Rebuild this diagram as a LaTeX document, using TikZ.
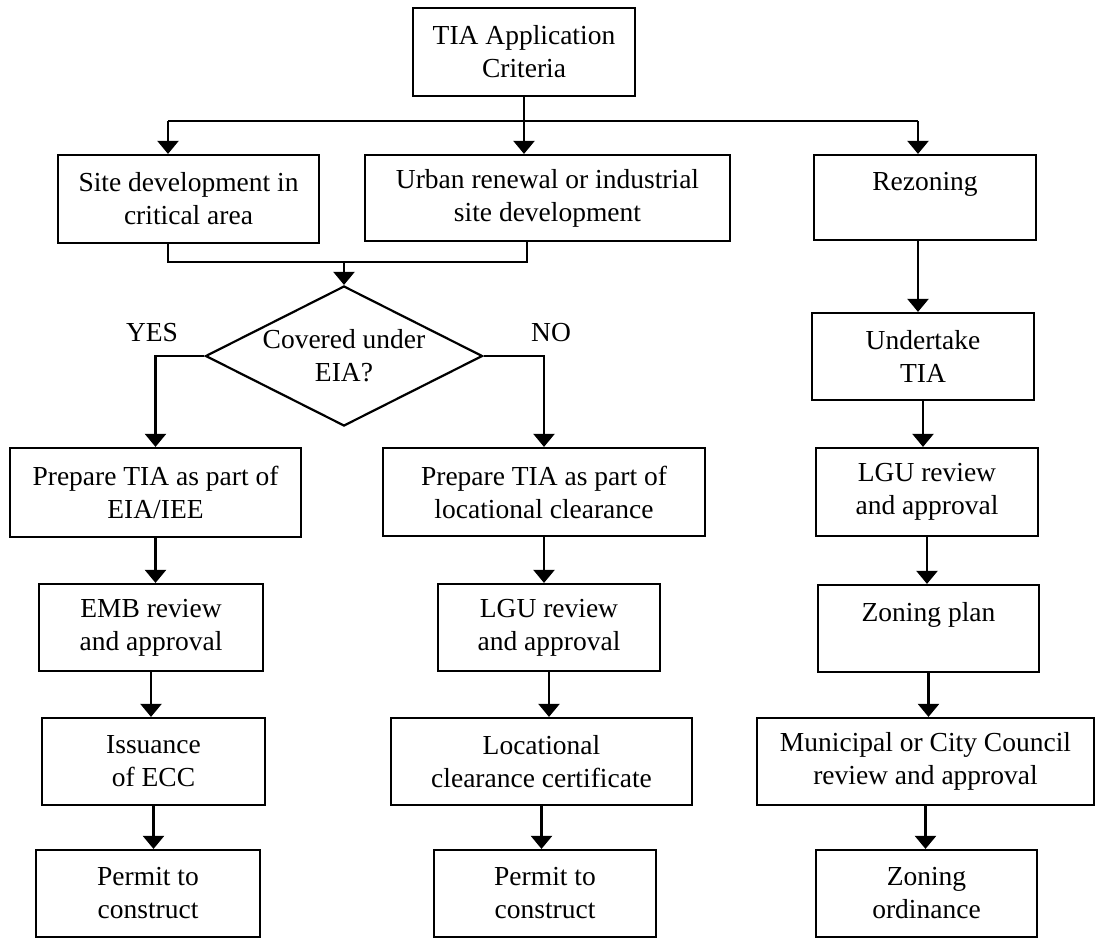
\documentclass[tikz,border=0pt]{standalone}
\usepackage{fontspec}
\setmainfont{Liberation Serif}
\usetikzlibrary{shapes.geometric,arrows.meta}
\begin{document}
\begin{tikzpicture}[x=1pt,y=-1pt,
  font=\fontsize{27.5}{33}\selectfont,
  box/.style={draw, line width=2.2pt, align=center, inner sep=0pt, minimum height=87pt},
  link/.style={line width=2.2pt},
  arr/.style={line width=2.2pt, -{Triangle[width=21pt,length=13pt]}}]
\useasboundingbox (0,0) rectangle (1095,938);

% criteria and the three kinds of development
\node[box, minimum width=222pt, minimum height=88pt] (crit) at (524,52) {TIA Application\\Criteria};
\node[box, minimum width=261pt, minimum height=88pt] (site) at (188.5,199) {Site development in\\critical area};
\node[box, minimum width=365pt, minimum height=86pt] (urban) at (547.5,198) {Urban renewal or industrial\\site development};
\node[box, minimum width=222pt, minimum height=85pt] (rez) at (925,197.5) {Rezoning\\\mbox{}};

\node[draw, diamond, aspect=2, line width=2.2pt, align=center, inner sep=0pt,
  minimum width=277pt, minimum height=140pt] (eia) at (344,356) {Covered under\\EIA?};
\node (yes) at (152,333) {YES};
\node (no) at (551,333) {NO};

% left column
\node[box, minimum width=291pt, minimum height=89pt] (prepE) at (155.5,492.5) {Prepare TIA as part of\\EIA/IEE};
\node[box, minimum width=224pt] (emb) at (151,627.5) {EMB review\\and approval};
\node[box, minimum width=223pt] (ecc) at (153.5,761.5) {Issuance\\of ECC};
\node[box, minimum width=224pt] (permE) at (148,893.5) {Permit to\\construct};

% middle column
\node[box, minimum width=322pt, minimum height=88pt] (prepL) at (544,492) {Prepare TIA as part of\\locational clearance};
\node[box, minimum width=222pt] (lguM) at (549,627.5) {LGU review\\and approval};
\node[box, minimum width=301pt] (lcc) at (541.5,761.5) {Locational\\clearance certificate};
\node[box, minimum width=222pt] (permL) at (545,893.5) {Permit to\\construct};

% right column
\node[box, minimum width=222pt] (tia) at (923,356.5) {Undertake\\TIA};
\node[box, minimum width=222pt, minimum height=88pt] (lguR) at (927,492) {LGU review\\and approval};
\node[box, minimum width=221pt] (zplan) at (928.5,628.5) {Zoning plan\\\mbox{}};
\node[box, minimum width=337pt] (council) at (925.5,761.5) {Municipal or City Council\\review and approval};
\node[box, minimum width=221pt] (zord) at (926.5,893.5) {Zoning\\ordinance};

% connectors
\coordinate (busL) at (168,121);
\coordinate (busR) at (918,121);
\coordinate (joinL) at (168,262);
\coordinate (joinR) at (527,262);

\draw[link] (busL) -- (busR);
\draw[arr] (crit.south) -- (crit.south |- urban.north);
\draw[arr] (busL) -- (busL |- site.north);
\draw[arr] (busR) -- (busR |- rez.north);

\draw[link] (joinL |- site.south) -- (joinL) -- (joinR) -- (joinR |- urban.south);
\draw[arr] (eia.north |- joinL) -- (eia.north);
\draw[arr] (eia.west) -| (prepE.north);
\draw[arr] (eia.east) -| (prepL.north);

\draw[arr] (prepE.south) -- (prepE.south |- emb.north);
\draw[arr] (emb.south) -- (emb.south |- ecc.north);
\draw[arr] (ecc.south) -- (ecc.south |- permE.north);

\draw[arr] (prepL.south) -- (prepL.south |- lguM.north);
\draw[arr] (lguM.south) -- (lguM.south |- lcc.north);
\draw[arr] (lcc.south) -- (lcc.south |- permL.north);

\draw[arr] (busR |- rez.south) -- (busR |- tia.north);
\draw[arr] (tia.south) -- (tia.south |- lguR.north);
\draw[arr] (lguR.south) -- (lguR.south |- zplan.north);
\draw[arr] (zplan.south) -- (zplan.south |- council.north);
\draw[arr] (council.south) -- (council.south |- zord.north);
\end{tikzpicture}
\end{document}
